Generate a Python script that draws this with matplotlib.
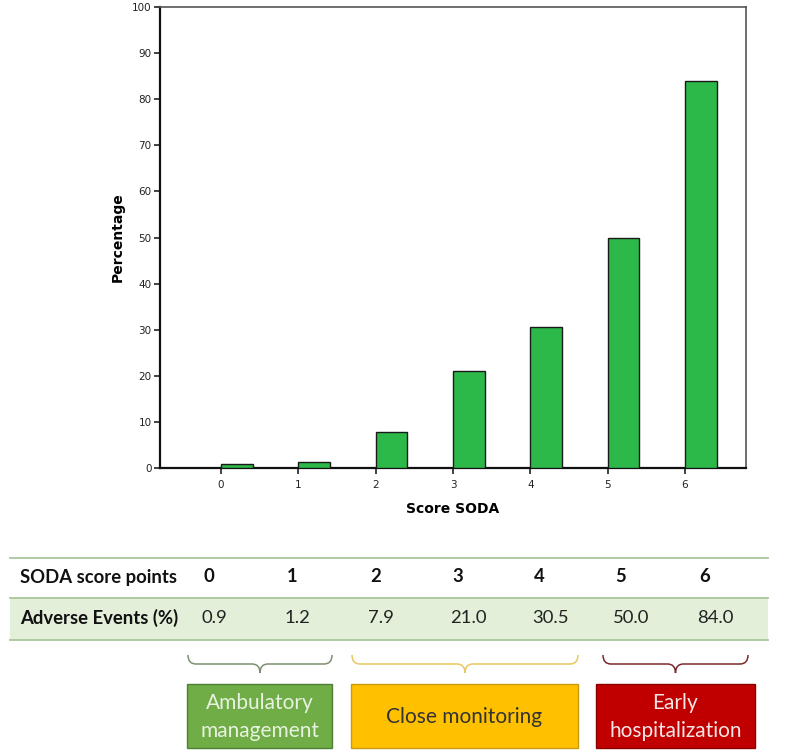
import numpy as np
import matplotlib
matplotlib.use("Agg")
import matplotlib.pyplot as plt
from matplotlib.path import Path
from matplotlib.patches import PathPatch, Rectangle

scores = [0, 1, 2, 3, 4, 5, 6]
adverse_events = [0.9, 1.2, 7.9, 21.0, 30.5, 50.0, 84.0]
yticks = [0, 10, 20, 30, 40, 50, 60, 70, 80, 90, 100]
groups = ["Ambulatory\nmanagement", "Close monitoring", "Early\nhospitalization"]

W, H = 787, 752
fig = plt.figure(figsize=(W / 100, H / 100), dpi=100)

def px(x0, y0, x1, y1):
    return [x0 / W, 1 - y1 / H, (x1 - x0) / W, (y1 - y0) / H]

# bar chart
ax = fig.add_axes(px(160, 7, 746, 468))
ax.bar(scores, adverse_events, width=0.41, align="edge", color="#2db84a",
       edgecolor="#1a1a1a", linewidth=1.0, zorder=3)
ax.set_xlim(-0.79, 6.79)
ax.set_ylim(0, 100)
ax.set_xticks(scores)
ax.set_yticks(yticks)
ax.tick_params(labelsize=7.5, colors="#222222", length=4, width=1.2, pad=2)
ax.tick_params(axis="x", pad=5)
for s in ["left", "bottom"]:
    ax.spines[s].set_linewidth(1.6)
    ax.spines[s].set_color("#111111")
for s in ["top", "right"]:
    ax.spines[s].set_linewidth(1.2)
    ax.spines[s].set_color("#555555")
ax.set_ylabel("Percentage", fontsize=10, fontweight="bold", labelpad=5)
ax.set_xlabel("Score SODA", fontsize=10, fontweight="bold", labelpad=8)

# table + braces overlay in pixel coordinates
ov = fig.add_axes([0, 0, 1, 1])
ov.set_xlim(0, W)
ov.set_ylim(H, 0)
ov.axis("off")

font = "Lato"
fs = 13.3
col_x = [201, 285, 368, 450, 532, 613, 697]
ov.add_patch(Rectangle((10, 598), 758, 42, facecolor="#e3efd9", edgecolor="none"))
for yy in [558, 598, 640]:
    ov.plot([10, 768], [yy, yy], color="#a9c79b", lw=1.3)
ov.text(20, 577, "SODA score points", fontsize=fs, fontweight="bold",
        family=font, va="center", color="#111111")
ov.text(20, 618, "Adverse Events (%)", fontsize=fs, fontweight="bold",
        family=font, va="center", color="#111111")
for x, s, v in zip(col_x, scores, adverse_events):
    ov.text(x + 2, 577, str(s), fontsize=fs, fontweight="bold", family=font,
            va="center", color="#111111")
    ov.text(x, 618, f"{v:.1f}", fontsize=fs, family=font, va="center",
            color="#222222")

def brace(x0, x1, y0, y1, color):
    xm = (x0 + x1) / 2
    ym = (y0 + y1) / 2
    verts = [(x0, y0), (x0, ym), (x0 + 8, ym), (xm - 8, ym), (xm, ym), (xm, y1),
             (xm, ym), (xm + 8, ym), (x1 - 8, ym), (x1, ym), (x1, y0)]
    codes = [Path.MOVETO, Path.CURVE3, Path.CURVE3, Path.LINETO, Path.CURVE3,
             Path.CURVE3, Path.CURVE3, Path.CURVE3, Path.LINETO, Path.CURVE3,
             Path.CURVE3]
    ov.add_patch(PathPatch(Path(verts, codes), facecolor="none",
                           edgecolor=color, lw=1.1))

brace_spans = [(188, 332), (352, 578), (603, 748)]
brace_cols = ["#7f8f70", "#e8c860", "#7a2a2a"]
boxes = [(187, 332, "#70ad47", "#4f7f33", "#e8f2e0"),
         (351, 578, "#ffc000", "#c99a10", "#333333"),
         (596, 755, "#c00000", "#8a0000", "#f6e6e6")]
for (bx0, bx1), bc, (x0, x1, fc, ec, tc), label in zip(brace_spans, brace_cols, boxes, groups):
    brace(bx0, bx1, 655, 673, bc)
    ov.add_patch(Rectangle((x0, 684), x1 - x0, 64, facecolor=fc, edgecolor=ec, lw=1.0))
    ov.text((x0 + x1) / 2, 717, label, fontsize=15, family=font, ha="center",
            va="center", color=tc, linespacing=1.45)

fig.savefig("out.png", dpi=100)
